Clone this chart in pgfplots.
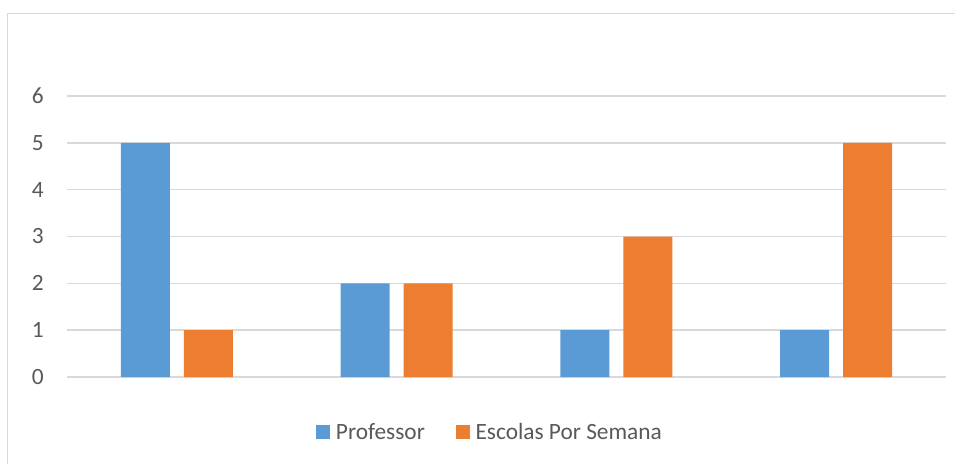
\documentclass[border=0pt]{standalone}
\usepackage{pgfplots}
\pgfplotsset{compat=1.18}
\usepackage{fontspec}
\setmainfont{Carlito}
\definecolor{cblue}{HTML}{5B9BD5}
\definecolor{corange}{HTML}{ED7D31}
\definecolor{cgrid}{HTML}{D9D9D9}
\definecolor{ctext}{HTML}{595959}
\begin{document}
\begin{tikzpicture}
\path[use as bounding box] (0pt,0pt) rectangle (716.25pt,348pt);
\draw[cgrid, line width=1.2pt] (5.625pt,0pt) -- (5.625pt,337.875pt) -- (716.25pt,337.875pt);
\begin{axis}[
  at={(50.25pt,65.25pt)}, anchor=south west,
  scale only axis, width=659.25pt, height=210.75pt,
  xmin=-0.5, xmax=3.5, ymin=0, ymax=6,
  axis line style={draw=none},
  major tick length=0pt,
  xtick=\empty,
  ytick={0,1,2,3,4,5,6},
  ymajorgrids,
  grid style={cgrid, line width=1.2pt},
  /pgf/number format/assume math mode=true,
  yticklabel style={anchor=east, inner sep=0pt, xshift=-17.25pt, font=\fontsize{17.5}{21}\selectfont, text=ctext},
  legend style={at={(0.48,-0.196)}, anchor=center, draw=none, fill=none,
    legend columns=2, font=\fontsize{17.5}{21}\selectfont, text=ctext,
    nodes={inner sep=0pt},
    /tikz/every odd column/.append style={column sep=4.5pt},
    /tikz/every even column/.append style={column sep=23pt}},
  legend image code/.code={\fill[#1] (0pt,-5.25pt) rectangle (10.5pt,5.25pt);},
]
\addplot[ybar, bar width=36.75pt, bar shift=-23.625pt, fill=cblue, draw=none] coordinates {(0,5) (1,2) (2,1) (3,1)};
\addplot[ybar, bar width=36.75pt, bar shift=23.625pt, fill=corange, draw=none] coordinates {(0,1) (1,2) (2,3) (3,5)};
\legend{Professor, Escolas Por Semana}
\end{axis}
\end{tikzpicture}
\end{document}
